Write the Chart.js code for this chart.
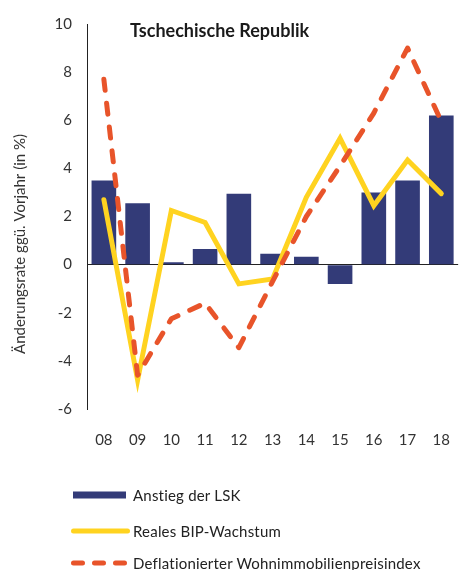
<!DOCTYPE html>
<html>
<head>
<meta charset="utf-8">
<script src="https://cdn.jsdelivr.net/npm/chart.js@4/dist/chart.umd.min.js"></script>
<style>
  body { margin: 0; background: #fff; }
  #wrap { position: relative; width: 464px; height: 570px; overflow: hidden; }
  #legend { position: absolute; left: 0; top: 0; width: 464px; height: 570px; pointer-events: none;
            font-family: Lato, sans-serif; font-size: 15px; letter-spacing: 0.2px; color: #222; }
  .item { position: absolute; left: 70px; height: 20px; display: flex; align-items: center; }
  .item svg { width: 60px; height: 12px; margin-right: 3px; }
</style>
</head>
<body>
<div id="wrap">
  <canvas id="chart" width="464" height="570"></canvas>
  <div id="legend"></div>
</div>
<script>
// chart data
var years = ['08', '09', '10', '11', '12', '13', '14', '15', '16', '17', '18'];
var lskGrowth = [3.5, 2.55, 0.1, 0.65, 2.95, 0.45, 0.33, -0.8, 3.0, 3.5, 6.2];
var gdpGrowth = [2.7, -4.8, 2.25, 1.75, -0.8, -0.6, 2.8, 5.25, 2.45, 4.35, 2.95];
var housePrices = [7.7, -4.6, -2.25, -1.6, -3.45, -0.7, 2.0, 4.1, 6.3, 9.0, 5.95];
var yTicks = [-6, -4, -2, 0, 2, 4, 6, 8, 10];

var seriesNames = ['Anstieg der LSK', 'Reales BIP-Wachstum', 'Deflationierter Wohnimmobilienpreisindex'];
var chartTitle = 'Tschechische Republik';
var yTitle = 'Änderungsrate ggü. Vorjahr (in %)';

var navy = '#333b78';
var yellow = '#ffd320';
var orange = '#e8542a';

// title texts drawn onto the canvas
var textPlugin = {
    id: 'texts',
    afterDraw: function(chart) {
        var ctx = chart.ctx;
        ctx.save();
        ctx.fillStyle = '#1a1a1a';
        ctx.font = 'bold 18px Lato';
        ctx.textAlign = 'left';
        ctx.textBaseline = 'middle';
        ctx.fillText(chartTitle, 130, 31);

        ctx.fillStyle = '#333';
        ctx.font = '15px Lato';
        ctx.translate(20, 244);
        ctx.rotate(-Math.PI / 2);
        ctx.textAlign = 'center';
        ctx.fillText(yTitle, 0, 0);
        ctx.restore();
    }
};

var ctx = document.getElementById('chart').getContext('2d');
new Chart(ctx, {
    type: 'bar',
    data: {
        labels: years,
        datasets: [{
            type: 'line',
            label: seriesNames[2],
            data: housePrices,
            borderColor: orange,
            borderWidth: 5,
            borderDash: [11, 13],
            borderCapStyle: 'round',
            borderJoinStyle: 'round',
            pointRadius: 0,
            tension: 0,
            order: 0
        }, {
            type: 'line',
            label: seriesNames[1],
            data: gdpGrowth,
            borderColor: yellow,
            borderWidth: 5,
            borderCapStyle: 'round',
            borderJoinStyle: 'miter',
            pointRadius: 0,
            tension: 0,
            order: 1
        }, {
            type: 'bar',
            label: seriesNames[0],
            data: lskGrowth,
            backgroundColor: navy,
            barPercentage: 0.73,
            categoryPercentage: 1,
            order: 2
        }]
    },
    options: {
        responsive: false,
        animation: false,
        devicePixelRatio: 1,
        layout: { padding: { left: 0, right: 0, top: 18, bottom: 0 } },
        plugins: {
            legend: { display: false },
            tooltip: { enabled: false }
        },
        scales: {
            x: {
                grid: { display: false },
                border: { display: false },
                ticks: { color: '#333', font: { family: 'Lato', size: 15 }, padding: 14 },
                afterFit: function(scale) { scale.height = 161; }
            },
            y: {
                min: -6,
                max: 10,
                afterBuildTicks: function(scale) {
                    scale.ticks = yTicks.map(function(v) { return { value: v }; });
                },
                grid: {
                    drawTicks: false,
                    color: function(c) { return c.tick && c.tick.value === 0 ? '#222' : 'rgba(0,0,0,0)'; },
                    lineWidth: 1
                },
                border: { display: true, color: '#222', width: 1 },
                ticks: { color: '#333', font: { family: 'Lato', size: 15 }, padding: 15 },
                afterFit: function(scale) { scale.width = 87; }
            }
        }
    },
    plugins: [textPlugin]
});

// legend below the plot, one entry per line
var legendSymbols = [
    '<svg viewBox="0 0 60 12"><rect x="3" y="2.5" width="53" height="7" fill="' + navy + '"/></svg>',
    '<svg viewBox="0 0 60 12"><line x1="3.5" y1="6" x2="57.5" y2="6" stroke="' + yellow + '" stroke-width="5" stroke-linecap="round"/></svg>',
    '<svg viewBox="0 0 60 12"><line x1="3.5" y1="6" x2="57.5" y2="6" stroke="' + orange + '" stroke-width="5" stroke-linecap="round" stroke-dasharray="9 12"/></svg>'
];
var legendTops = [485, 521, 553];
var legend = document.getElementById('legend');
for (var i = 0; i < seriesNames.length; i++) {
    var item = document.createElement('div');
    item.className = 'item';
    item.style.top = legendTops[i] + 'px';
    item.innerHTML = legendSymbols[i] + '<span>' + seriesNames[i] + '</span>';
    legend.appendChild(item);
}
</script>
</body>
</html>
